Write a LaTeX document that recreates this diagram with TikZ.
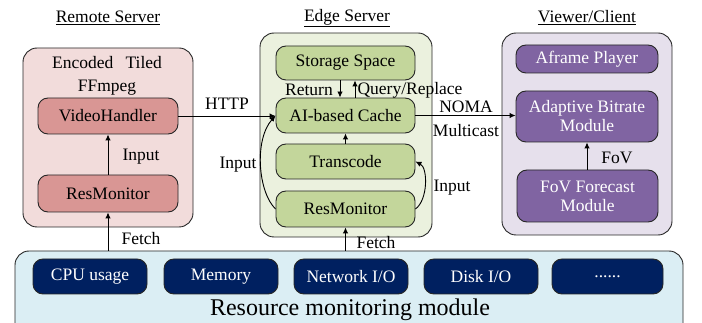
\documentclass[tikz,border=0pt]{standalone}
\usepackage{fontspec}
\setmainfont{Liberation Serif}
\usetikzlibrary{arrows.meta}

\definecolor{remoteBg}{HTML}{F2DCDB}
\definecolor{remoteFg}{HTML}{D99694}
\definecolor{edgeBg}{HTML}{EBF1DE}
\definecolor{edgeFg}{HTML}{C3D69B}
\definecolor{viewBg}{HTML}{E6E0EC}
\definecolor{viewFg}{HTML}{8064A2}
\definecolor{resBg}{HTML}{DBEEF4}
\definecolor{resFg}{HTML}{002060}
\definecolor{lineCol}{HTML}{262626}

\tikzset{
  txt/.style={font=\fontsize{17.5}{19}\selectfont, inner sep=0pt},
  group/.style={draw=lineCol, line width=0.9pt, rounded corners=14pt, inner sep=0pt},
  block/.style={draw=lineCol, line width=0.9pt, rounded corners=10pt, inner sep=0pt,
    font=\fontsize{17.5}{19}\selectfont, align=center, minimum width=140pt},
  redblock/.style={block, fill=remoteFg},
  greenblock/.style={block, fill=edgeFg},
  purpleblock/.style={block, fill=viewFg, text=white},
  navyblock/.style={block, fill=resFg, text=white, minimum width=114pt, minimum height=35pt},
  arr/.style={draw=black, line width=0.9pt, -{Latex[length=6pt,width=5.5pt]}},
}

\begin{document}
\begin{tikzpicture}[x=1pt,y=-1pt]
\useasboundingbox (0,0) rectangle (702,323);

% ---- group frames ----
\node[group, fill=remoteBg, minimum width=170pt, minimum height=179pt] (remote) at (108,137.5) {};
\node[group, fill=edgeBg, minimum width=172pt, minimum height=204pt] (edge) at (346,135) {};
\node[group, fill=viewBg, minimum width=170pt, minimum height=202pt] (viewer) at (587,134) {};
\node[group, fill=resBg, minimum width=668pt, minimum height=92pt] (res) at (349,297) {};

% ---- titles ----
\node[txt] (tRemote) at (108,18) {\underline{Remote Server}};
\node[txt] (tEdge) at (347,18) {\underline{Edge Server}};
\node[txt] (tViewer) at (587,18) {\underline{Viewer/Client}};

% ---- remote server ----
\node[txt] (enc) at (107,63) {Encoded\hspace{0.7em}Tiled};
\node[txt] (ffm) at (107,88) {FFmpeg};
\node[redblock, minimum height=36pt] (vh) at (108,116) {VideoHandler};
\node[redblock, minimum height=37pt] (rm1) at (108,193.5) {ResMonitor};

% ---- edge server ----
\node[greenblock, minimum width=139pt, minimum height=34pt] (store) at (345.5,63) {Storage Space};
\node[greenblock, minimum width=139pt, minimum height=35pt] (cache) at (345.5,115.5) {AI-based Cache};
\node[greenblock, minimum width=139pt, minimum height=35pt] (trans) at (345.5,161.5) {Transcode};
\node[greenblock, minimum width=139pt, minimum height=36pt] (rm2) at (345.5,209) {ResMonitor};

% ---- viewer / client ----
\node[purpleblock, minimum width=142pt, minimum height=28pt] (aframe) at (587,59) {Aframe Player};
\node[purpleblock, minimum width=142pt, minimum height=51pt] (abr) at (587,116.5) {Adaptive Bitrate\\Module};
\node[purpleblock, minimum width=141pt, minimum height=52pt] (fov) at (587.5,196) {FoV Forecast\\Module};

% ---- resource monitoring module ----
\node[navyblock] (cpu) at (90,276.5) {CPU usage};
\node[navyblock] (mem) at (221,276.5) {Memory};
\node[navyblock] (net) at (351,276.5) {Network I/O};
\node[navyblock] (disk) at (481,276.5) {Disk I/O};
\node[navyblock, minimum width=111pt] (more) at (607.5,276.5) {......};
\node[txt, font=\fontsize{24}{26}\selectfont] (resLbl) at (350,310) {Resource monitoring module};

% ---- connectors ----
\draw[arr] (rm1.north) -- (vh.south);
\node[txt] (lInput1) at (141,157) {Input};

\draw[arr] (rm1.south |- res.north) -- (rm1.south);
\node[txt] (lFetch1) at (141,239) {Fetch};

\draw[arr] (rm2.south |- res.north) -- (rm2.south);
\node[txt] (lFetch2) at (376,243) {Fetch};

\draw[arr] (vh.east) -- (vh.east -| cache.west);
\node[txt] (lHttp) at (227,104) {HTTP};

\draw[arr] (cache.east) -- (cache.east -| abr.west);
\node[txt] (lNoma) at (466,107) {NOMA};
\node[txt] (lMulti) at (466,131) {Multicast};

\draw[arr] ([xshift=-5.5pt]store.south) -- ([xshift=-5.5pt]cache.north);
\draw[arr] ([xshift=9.5pt]cache.north) -- ([xshift=9.5pt]store.south);
\node[txt] (lReturn) at (309,90) {Return};
\node[txt] (lQuery) at (410,90) {Query/Replace};

\draw[arr] (trans.north) -- (cache.south);

\draw[arr] (rm2.west) .. controls (258,192) and (254,140) .. (cache.west);
\node[txt] (lInput2) at (238,165) {Input};

\draw[arr] (rm2.east) .. controls (428,200) and (428,168) .. (trans.east);
\node[txt] (lInput3) at (452,188) {Input};

\draw[arr] (fov.north -| abr.south) -- (abr.south);
\node[txt] (lFov) at (617,158) {FoV};
\end{tikzpicture}
\end{document}
